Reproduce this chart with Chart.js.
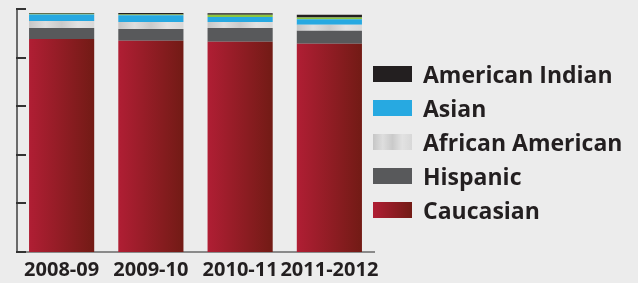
<!DOCTYPE html>
<html lang="en">
<head>
    <meta charset="UTF-8">
    <title>Enrollment by Ethnicity</title>
    <script src="https://cdn.jsdelivr.net/npm/chart.js"></script>
    <style>
        html, body { margin: 0; padding: 0; background: #ececec; }
        #wrap { position: relative; width: 638px; height: 283px; }
        #legend { position: absolute; left: 373px; top: 57px; font-family: 'Open Sans', sans-serif; font-weight: bold; font-size: 23px; color: #231f20; }
        .row { display: flex; align-items: center; height: 34px; }
        .box { width: 39px; height: 16px; margin-right: 11px; }
    </style>
</head>
<body>
    <div id="wrap">
        <canvas id="myChart" width="638" height="283"></canvas>
        <div id="legend"></div>
    </div>

    <script>
        // school years
        const categories = ['2008-09', '2009-10', '2010-11', '2011-2012'];

        // percent of students (bottom to top)
        const caucasian = [87.7, 86.9, 86.5, 85.7];
        const hispanic = [4.5, 4.9, 5.7, 5.3];
        const africanAmerican = [2.9, 2.9, 2.5, 2.5];
        const asian = [2.6, 2.7, 2.0, 2.3];
        const other = [0.3, 0.3, 0.9, 0.7];   // thin green band, not in the legend
        const americanIndian = [0.4, 0.7, 0.7, 1.1];

        const barPct = 0.73;

        // horizontal gradient across one bar
        function barGradient(stops, flat) {
            return function (ctx) {
                const chart = ctx.chart;
                if (!chart.chartArea) return flat;
                const xs = chart.scales.x;
                const c = xs.getPixelForValue(ctx.dataIndex);
                const half = xs.width / categories.length * barPct / 2;
                const g = chart.ctx.createLinearGradient(c - half, 0, c + half, 0);
                stops.forEach(s => g.addColorStop(s[0], s[1]));
                return g;
            };
        }

        const redStops = [[0, '#b01e34'], [1, '#721b15']];
        const silverStops = [[0, '#c6c6c6'], [0.25, '#dedede'], [0.5, '#cacaca'], [0.75, '#e2e2e2'], [1, '#d8d8d8']];

        const series = [
            { label: 'Caucasian', data: caucasian, color: barGradient(redStops, '#961e28'), css: 'linear-gradient(to right, #b01e34, #721b15)' },
            { label: 'Hispanic', data: hispanic, color: '#58595b', css: '#58595b' },
            { label: 'African American', data: africanAmerican, color: barGradient(silverStops, '#d4d4d4'), css: 'linear-gradient(to right, #c6c6c6, #dedede 25%, #cacaca 50%, #e2e2e2 75%, #d8d8d8)' },
            { label: 'Asian', data: asian, color: '#27a9e1', css: '#27a9e1' },
            { label: 'Other', data: other, color: '#8dc63f', css: null },
            { label: 'American Indian', data: americanIndian, color: '#231f20', css: '#231f20' }
        ];

        // small inward tick marks on the y axis
        const yTicks = {
            id: 'yTicks',
            afterDraw(chart) {
                const ys = chart.scales.y;
                const ctx = chart.ctx;
                const left = chart.chartArea.left;
                ctx.save();
                ctx.strokeStyle = '#333333';
                ctx.lineWidth = 2;
                ys.ticks.forEach(t => {
                    const y = Math.round(ys.getPixelForValue(t.value));
                    ctx.beginPath();
                    ctx.moveTo(left - 1, y);
                    ctx.lineTo(left + 9, y);
                    ctx.stroke();
                });
                ctx.restore();
            }
        };

        const ctx = document.getElementById('myChart').getContext('2d');
        new Chart(ctx, {
            type: 'bar',
            data: {
                labels: categories,
                datasets: series.map(s => ({
                    label: s.label,
                    data: s.data,
                    backgroundColor: s.color,
                    borderWidth: 0,
                    categoryPercentage: 1,
                    barPercentage: barPct
                }))
            },
            options: {
                responsive: false,
                animation: false,
                events: [],
                layout: { padding: { left: 17, right: 264, top: 9, bottom: -5 } },
                plugins: { legend: { display: false }, tooltip: { enabled: false } },
                scales: {
                    x: {
                        stacked: true,
                        grid: { display: false, drawTicks: false },
                        border: { color: '#8a8a8a', width: 2 },
                        ticks: {
                            padding: 6,
                            maxRotation: 0,
                            minRotation: 0,
                            autoSkip: false,
                            color: '#231f20',
                            font: { family: 'Open Sans', weight: 'bold', size: 20 }
                        }
                    },
                    y: {
                        stacked: true,
                        min: 0,
                        max: 100,
                        ticks: { display: false, stepSize: 20 },
                        grid: { display: false, drawTicks: false },
                        border: { color: '#6a6a6a', width: 2 }
                    }
                }
            },
            plugins: [yTicks]
        });

        // legend, top entry first
        const legend = document.getElementById('legend');
        series.slice().reverse().filter(s => s.css).forEach(s => {
            const row = document.createElement('div');
            row.className = 'row';
            const box = document.createElement('div');
            box.className = 'box';
            box.style.background = s.css;
            const txt = document.createElement('span');
            txt.textContent = s.label;
            row.appendChild(box);
            row.appendChild(txt);
            legend.appendChild(row);
        });
    </script>
</body>
</html>
